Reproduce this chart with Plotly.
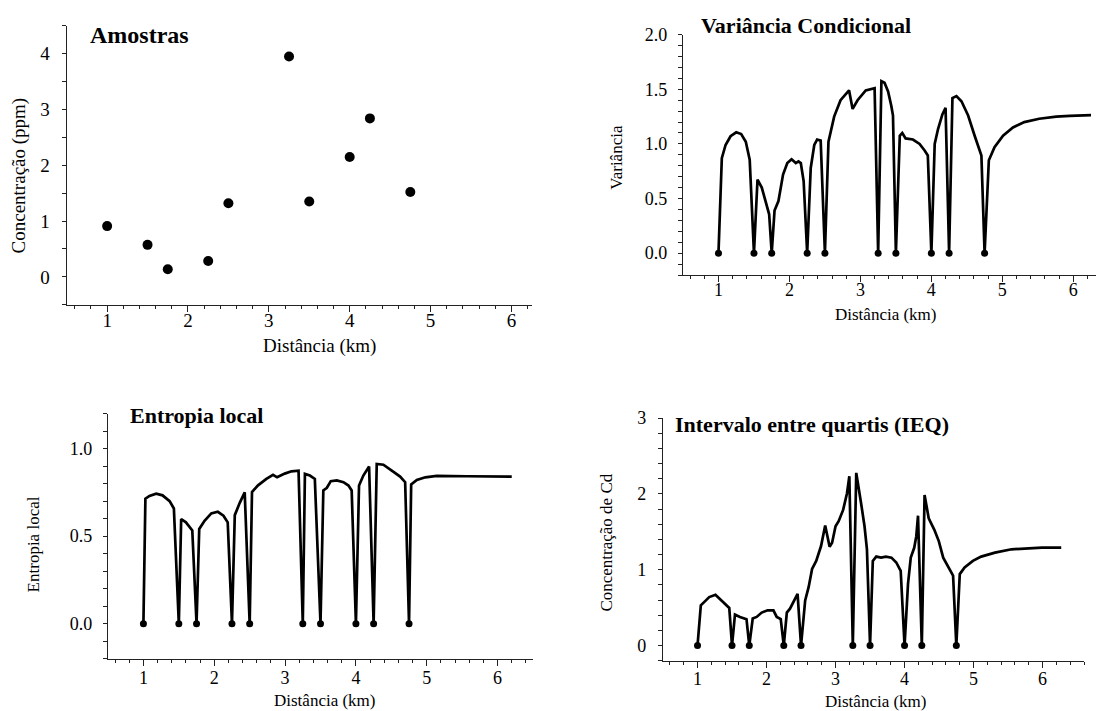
import plotly.graph_objects as go

W, H = 1101, 711
FONT = "Liberation Serif"

# ---- data ----
sample_x = [1, 1.5, 1.75, 2.25, 2.5, 3.25, 3.5, 4, 4.25, 4.75]
sample_conc = [0.91, 0.574, 0.137, 0.284, 1.32, 3.95, 1.35, 2.15, 2.84, 1.52]
sample_zero = [0, 0, 0, 0, 0, 0, 0, 0, 0, 0]

var_x = [1.0, 1.047, 1.10, 1.17, 1.25, 1.32, 1.385, 1.44, 1.5,
         1.55, 1.61, 1.667, 1.714, 1.75,
         1.79, 1.845, 1.91, 1.97, 2.03, 2.09, 2.127, 2.16, 2.2, 2.25,
         2.30, 2.35, 2.39, 2.44, 2.5,
         2.55, 2.63, 2.72, 2.84, 2.89, 2.96, 3.075, 3.145, 3.2, 3.25,
         3.296, 3.34, 3.39, 3.435, 3.459, 3.5,
         3.555, 3.59, 3.637, 3.74, 3.834, 3.905, 3.95, 4.0,
         4.047, 4.094, 4.155, 4.2, 4.25,
         4.297, 4.353, 4.424, 4.518, 4.61, 4.705, 4.75,
         4.81, 4.89, 5.01, 5.15, 5.31, 5.52, 5.76, 5.95, 6.25]
var_y = [0, 0.87, 0.99, 1.07, 1.106, 1.09, 1.02, 0.855, 0,
         0.674, 0.6, 0.46, 0.356, 0,
         0.39, 0.477, 0.72, 0.825, 0.86, 0.825, 0.84, 0.825, 0.66, 0,
         0.78, 0.99, 1.04, 1.03, 0,
         1.02, 1.25, 1.40, 1.49, 1.32, 1.40, 1.49, 1.504, 1.51, 0,
         1.574, 1.56, 1.48, 1.35, 1.26, 0,
         1.075, 1.10, 1.05, 1.04, 1.0, 0.94, 0.894, 0,
         1.0, 1.136, 1.27, 1.33, 0,
         1.42, 1.438, 1.39, 1.26, 1.075, 0.894, 0,
         0.85, 0.97, 1.075, 1.15, 1.20, 1.23, 1.25, 1.257, 1.263]

ent_x = [1.0, 1.028, 1.085, 1.18, 1.27, 1.37, 1.43, 1.5,
         1.533, 1.60, 1.69, 1.75,
         1.788, 1.863, 1.958, 2.05, 2.13, 2.19, 2.25,
         2.29, 2.36, 2.43, 2.5,
         2.533, 2.618, 2.736, 2.83, 2.887, 2.995, 3.09, 3.19, 3.25,
         3.28, 3.35, 3.42, 3.5,
         3.54, 3.59, 3.645, 3.73, 3.824, 3.895, 3.94, 4.0,
         4.044, 4.105, 4.186, 4.25,
         4.294, 4.388, 4.506, 4.624, 4.695, 4.75,
         4.78, 4.86, 4.98, 5.14, 5.57, 6.2]
ent_y = [0, 0.714, 0.73, 0.742, 0.733, 0.70, 0.658, 0,
         0.598, 0.579, 0.532, 0,
         0.541, 0.588, 0.63, 0.639, 0.617, 0.579, 0,
         0.62, 0.69, 0.75, 0,
         0.752, 0.79, 0.827, 0.85, 0.836, 0.857, 0.87, 0.874, 0,
         0.855, 0.846, 0.827, 0,
         0.761, 0.776, 0.814, 0.818, 0.808, 0.789, 0.761, 0,
         0.789, 0.846, 0.898, 0,
         0.912, 0.908, 0.874, 0.84, 0.808, 0,
         0.795, 0.821, 0.836, 0.844, 0.842, 0.84]

ieq_x = [1.0, 1.048, 1.107, 1.17, 1.26, 1.325, 1.40, 1.46, 1.5,
         1.543, 1.615, 1.71, 1.75,
         1.80, 1.857, 1.93, 2.017, 2.10, 2.148, 2.206, 2.25,
         2.294, 2.34, 2.40, 2.45, 2.5,
         2.56, 2.61, 2.66, 2.72, 2.79, 2.85, 2.914, 2.95, 3.0, 3.045, 3.11, 3.166, 3.2, 3.25,
         3.30, 3.37, 3.42, 3.455, 3.5,
         3.54, 3.59, 3.66, 3.73, 3.81, 3.88, 3.944, 4.0,
         4.05, 4.09, 4.14, 4.17, 4.195, 4.25,
         4.29, 4.35, 4.43, 4.496, 4.56, 4.63, 4.703, 4.75,
         4.80, 4.87, 4.99, 5.11, 5.31, 5.55, 5.79, 5.99, 6.27]
ieq_y = [0, 0.53, 0.583, 0.64, 0.67, 0.617, 0.552, 0.496, 0,
         0.41, 0.378, 0.348, 0,
         0.357, 0.378, 0.435, 0.465, 0.465, 0.378, 0.348, 0,
         0.435, 0.487, 0.583, 0.683, 0,
         0.596, 0.77, 1.01, 1.117, 1.313, 1.583, 1.304, 1.357, 1.574, 1.64, 1.79, 2.01, 2.235, 0,
         2.278, 1.878, 1.574, 1.27, 0,
         1.117, 1.174, 1.16, 1.174, 1.16, 1.096, 0.987, 0,
         0.813, 1.16, 1.29, 1.443, 1.713, 0,
         1.987, 1.68, 1.53, 1.378, 1.16, 1.052, 0.922, 0,
         0.943, 1.03, 1.117, 1.174, 1.226, 1.27, 1.283, 1.291, 1.291]

titles = ["Amostras", "Variância Condicional", "Entropia local", "Intervalo entre quartis (IEQ)"]
y_titles = ["Concentração (ppm)", "Variância", "Entropia local", "Concentração de Cd"]
x_title = "Distância (km)"

# ---- layout geometry (pixels) ----
def px(x):
    return x / W

def py(y):
    return 1 - y / H

panels = [
    dict(x0=66.7, x1=531.6, yt=16, yb=299, xr=[0.5, 6.25], yr=[-0.5, 4.5], dt=1, mdt=0.5, fmt="d", fs=19, xso=-8, yso=8),
    dict(x0=683, x1=1096, yt=25, yb=268.8, xr=[0.5, 6.32], yr=[-0.2, 2.0], dt=0.5, mdt=0.1, fmt=".1f", fs=18, xso=-8, yso=7),
    dict(x0=108, x1=533, yt=409.3, yb=658, xr=[0.5, 6.5], yr=[-0.2, 1.2], dt=0.5, mdt=0.1, fmt=".1f", fs=18, xso=-3, yso=7),
    dict(x0=663, x1=1084, yt=414, yb=660, xr=[0.5, 6.6], yr=[-0.2, 3.0], dt=1, mdt=0.2, fmt="d", fs=18, xso=-4, yso=8),
]

fig = go.Figure()

line_style = dict(color="black", width=2.7)

fig.add_trace(go.Scatter(x=sample_x, y=sample_conc, mode="markers",
                         marker=dict(color="black", size=10), xaxis="x", yaxis="y",
                         showlegend=False))

curves = [(var_x, var_y), (ent_x, ent_y), (ieq_x, ieq_y)]
for i, (cx, cy) in enumerate(curves, start=2):
    fig.add_trace(go.Scatter(x=cx, y=cy, mode="lines", line=line_style,
                             xaxis=f"x{i}", yaxis=f"y{i}", showlegend=False))
    fig.add_trace(go.Scatter(x=sample_x, y=sample_zero, mode="markers",
                             marker=dict(color="black", size=7),
                             xaxis=f"x{i}", yaxis=f"y{i}", showlegend=False))

layout = dict(width=W, height=H, margin=dict(l=0, r=0, t=0, b=0),
              paper_bgcolor="white", plot_bgcolor="white", showlegend=False,
              font=dict(family=FONT, color="black"))

for i, p in enumerate(panels, start=1):
    s = "" if i == 1 else str(i)
    layout[f"xaxis{s}"] = dict(
        domain=[px(p["x0"]), px(p["x1"])], range=p["xr"], anchor=f"y{s}",
        showline=True, linecolor="#222", linewidth=1.3, showgrid=False, zeroline=False,
        ticks="outside", ticklen=6, tickwidth=1.2, tickcolor="#222",
        dtick=1, tick0=0, tickfont=dict(family=FONT, size=p["fs"], color="black"),
        ticklabelstandoff=p["xso"],
        minor=dict(dtick=0.2, tick0=0, ticks="outside", ticklen=3, tickwidth=1, tickcolor="#222",
                   showgrid=False),
        fixedrange=True)
    layout[f"yaxis{s}"] = dict(
        domain=[py(p["yb"]), py(p["yt"])], range=p["yr"], anchor=f"x{s}",
        showline=True, linecolor="#222", linewidth=1.3, showgrid=False, zeroline=False,
        ticks="outside", ticklen=4, tickwidth=1.2, tickcolor="#222",
        dtick=p["dt"], tick0=0, tickformat=p["fmt"],
        tickfont=dict(family=FONT, size=p["fs"], color="black"),
        ticklabelstandoff=p["yso"],
        minor=dict(dtick=p["mdt"], tick0=0, ticks="outside", ticklen=4, tickwidth=1, tickcolor="#222",
                   showgrid=False),
        fixedrange=True)

fig.update_layout(**layout)

# ---- text annotations (titles) ----
title_pos = [(87.7, 25, 24), (699.4, 16, 22), (128, 411.7, 22), (673, 420, 22)]
xt_pos = [(319.3, 341, 19), (885.7, 309, 17), (325.4, 700, 17), (876, 701, 17)]
yt_pos = [(19.3, 167.5, 19), (616.8, 149, 17), (33.3, 541.7, 17), (606.2, 540, 17)]

for i in range(4):
    tx, ty, ts = title_pos[i]
    fig.add_annotation(x=px(tx), y=py(ty), xref="paper", yref="paper", text=f"<b>{titles[i]}</b>",
                       showarrow=False, xanchor="left", yanchor="middle",
                       font=dict(family=FONT, size=ts, color="black"))
    xx, xy, xs = xt_pos[i]
    fig.add_annotation(x=px(xx), y=py(xy), xref="paper", yref="paper", text=x_title,
                       showarrow=False, xanchor="center", yanchor="middle",
                       font=dict(family=FONT, size=xs, color="black"))
    yx, yy, ys = yt_pos[i]
    fig.add_annotation(x=px(yx), y=py(yy), xref="paper", yref="paper", text=y_titles[i],
                       showarrow=False, xanchor="center", yanchor="middle", textangle=-90,
                       font=dict(family=FONT, size=ys, color="black"))

fig.write_html("out.html")
